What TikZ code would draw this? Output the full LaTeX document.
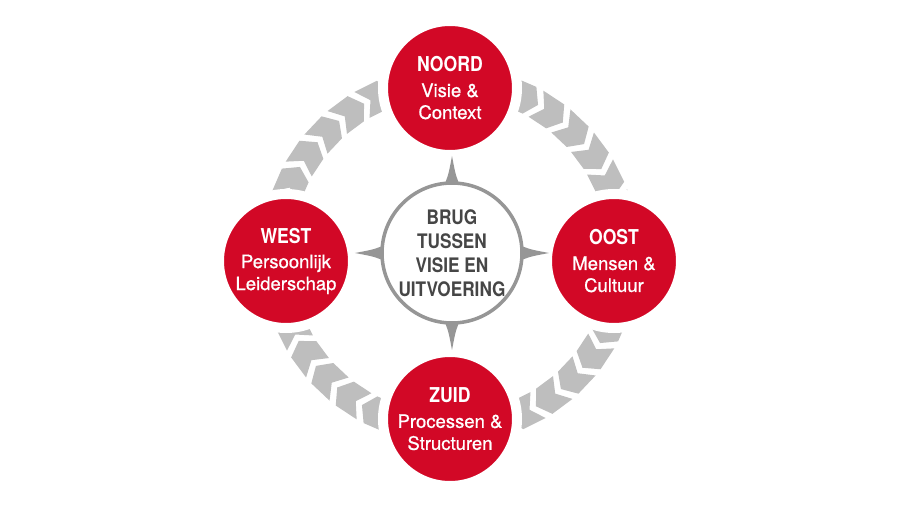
\documentclass[tikz,border=0pt]{standalone}
\usepackage{fontspec}
\setmainfont{TeX Gyre Heros}
\newfontfamily\smalfont[FakeStretch=0.86]{TeX Gyre Heros}
\newfontfamily\halfvet[FakeBold=0.8]{TeX Gyre Heros}
\definecolor{KompasRood}{RGB}{210, 8, 38}
\definecolor{PijlGrijs}{RGB}{190, 190, 190}
\definecolor{RandGrijs}{RGB}{150, 150, 150}
\definecolor{TekstGrijs}{RGB}{70, 70, 70}
\newcommand{\kopfont}{\smalfont\bfseries\fontsize{20.5}{22}\selectfont}
\usetikzlibrary{positioning}

\begin{document}
\begin{tikzpicture}[x=1pt, y=1pt,
		pijler/.style={circle, fill=KompasRood, draw=white, line width=10pt, minimum size=134pt, inner sep=0pt, align=center, text=white, font=\halfvet\fontsize{18.5}{22}\selectfont},
		kern/.style={circle, draw=RandGrijs, line width=3.5pt, fill=white, minimum size=140pt, inner sep=0pt, align=center, text=TekstGrijs, font=\smalfont\bfseries\fontsize{20}{24}\selectfont},
		pijl/.style={fill=PijlGrijs},
		punt/.style={fill=RandGrijs}]
	\useasboundingbox (-450,-259) rectangle (450,255);

	% Pijlenring (met de klok mee)
	\foreach \h in {5,15,...,355}
		\fill[pijl] (\h+5.4:189) -- (\h-2.2:189) -- (\h-5.4:174) -- (\h-2.2:159) -- (\h+5.4:159) -- (\h+2.2:174) -- cycle;

	% Windrichtingen
	\node[pijler] (noord) at (0,167) {{\kopfont NOORD}\\[3pt]Visie \&\\Context};
	\node[pijler] (oost) at (164,-6) {{\kopfont OOST}\\[3pt]Mensen \&\\Cultuur};
	\node[pijler] (zuid) at (0,-164) {{\kopfont ZUID}\\[3pt]Processen \&\\Structuren};
	\node[pijler] (west) at (-164,-6) {{\kopfont WEST}\\[3pt]Persoonlijk\\Leiderschap};

	% Kompas in het midden
	\coordinate (midden) at (2,2);
	\foreach \r in {0,90,180,270}
		\fill[punt, shift={(midden)}, rotate=\r] (-9,66) .. controls (-4,76) .. (0,97) .. controls (4,76) .. (9,66) -- cycle;
	\node[kern] (brug) at (midden) {BRUG\\TUSSEN\\VISIE EN\\UITVOERING};
\end{tikzpicture}
\end{document}
